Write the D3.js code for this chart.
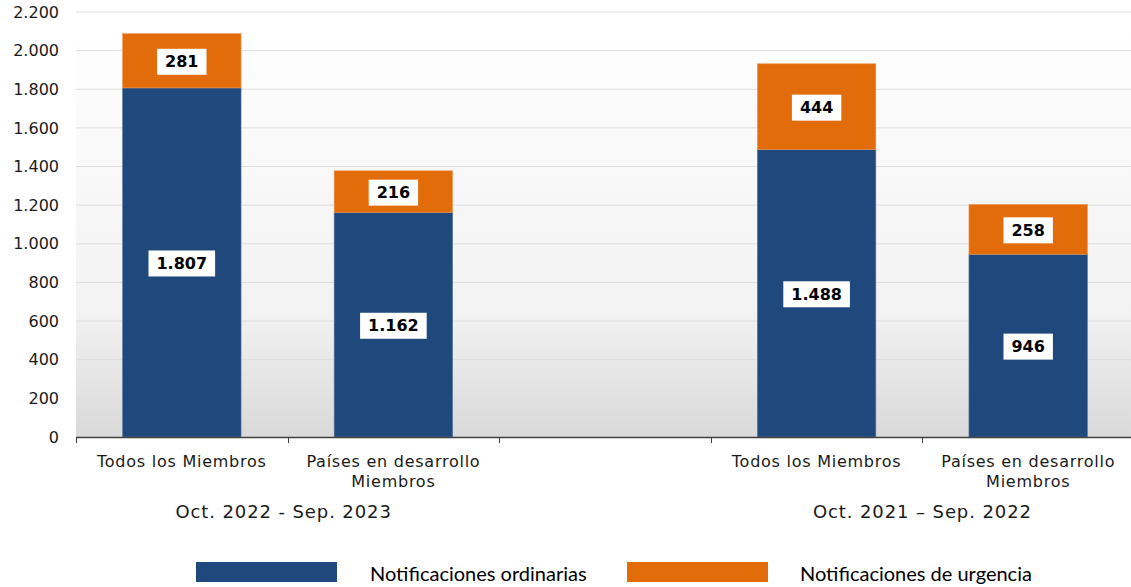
<!DOCTYPE html>
<html>
<head>
<meta charset="utf-8">
<script src="https://cdn.jsdelivr.net/npm/d3@7"></script>
<style>
  body { margin: 0; background: #fff; }
  svg { display: block; }
</style>
</head>
<body>
<svg id="chart" width="1131" height="587"></svg>
<script>
// slots on the x axis, the middle one is an empty spacer between the two periods
const categories = ["Todos los Miembros", "Países en desarrollo\nMiembros", "", "Todos los Miembros", "Países en desarrollo\nMiembros"];
const periods = ["Oct. 2022 - Sep. 2023", "Oct. 2021 – Sep. 2022"];
const periodSlots = [[0, 1], [3, 4]];
const ordinarias = [1807, 1162, null, 1488, 946];
const urgencia = [281, 216, null, 444, 258];
const yTicks = [0, 200, 400, 600, 800, 1000, 1200, 1400, 1600, 1800, 2000, 2200];
const seriesNames = ["Notificaciones ordinarias", "Notificaciones de urgencia"];
const colors = ["#1f497d", "#e36c0a"];

const svg = d3.select("#chart");
const plotLeft = 76, plotRight = 1131, plotTop = 12, plotBottom = 437;

const locale = d3.formatLocale({ decimal: ",", thousands: ".", grouping: [3], currency: ["", ""] });
const fmt = locale.format(",");

// the category axis runs a little past the right edge of the picture
let x = d3.scaleBand()
          .domain(d3.range(categories.length))
          .range([plotLeft, 1134])
          .paddingInner(0.44)
          .paddingOuter(0.22);
let step = x.step();
let edge = (i) => x(i) - x.paddingInner() * step / 2;

let y = d3.scaleLinear().domain([0, 2200]).range([plotBottom, plotTop]);

// background gradient
let defs = svg.append("defs");
let grad = defs.append("linearGradient").attr("id", "bg").attr("x1", 0).attr("x2", 0).attr("y1", 0).attr("y2", 1);
grad.append("stop").attr("offset", "0%").attr("stop-color", "#ffffff");
grad.append("stop").attr("offset", "70%").attr("stop-color", "#f2f2f2");
grad.append("stop").attr("offset", "100%").attr("stop-color", "#d9d9d9");

svg.append("rect")
   .attr("x", plotLeft).attr("y", y(2130))
   .attr("width", plotRight - plotLeft).attr("height", plotBottom - y(2130))
   .attr("fill", "url(#bg)");

// gridlines
svg.append("g")
   .selectAll("line")
   .data(yTicks.filter(d => d > 0))
   .enter()
   .append("line")
   .attr("x1", plotLeft).attr("x2", plotRight)
   .attr("y1", d => y(d)).attr("y2", d => y(d))
   .attr("stroke", "#dedede").attr("stroke-width", 1);

// y axis labels
let yAxis = svg.append("g")
               .attr("transform", `translate(${plotLeft},0)`)
               .call(d3.axisLeft(y).tickValues(yTicks).tickFormat(fmt).tickSize(0).tickPadding(17));
yAxis.select(".domain").remove();
yAxis.selectAll("text")
     .attr("font-family", "Verdana, 'DejaVu Sans', sans-serif")
     .attr("font-size", "16px")
     .attr("fill", "#1a1a1a");

// stacked bars
let idx = d3.range(categories.length).filter(i => ordinarias[i] != null);

svg.append("g")
   .selectAll("rect")
   .data(idx)
   .enter()
   .append("rect")
   .attr("x", i => x(i))
   .attr("y", i => y(ordinarias[i]))
   .attr("width", x.bandwidth())
   .attr("height", i => y(0) - y(ordinarias[i]))
   .attr("fill", colors[0])
   .attr("stroke", "#5b7aa3").attr("stroke-width", 0.6);

svg.append("g")
   .selectAll("rect")
   .data(idx)
   .enter()
   .append("rect")
   .attr("x", i => x(i))
   .attr("y", i => y(ordinarias[i] + urgencia[i]))
   .attr("width", x.bandwidth())
   .attr("height", i => y(ordinarias[i]) - y(ordinarias[i] + urgencia[i]))
   .attr("fill", colors[1])
   .attr("stroke", "#ec9a5a").attr("stroke-width", 0.6);

// value labels in white boxes
let addLabel = (cx, cy, value) => {
  let g = svg.append("g");
  let box = g.append("rect").attr("fill", "#fff");
  let t = g.append("text")
           .attr("x", cx).attr("y", cy)
           .attr("text-anchor", "middle")
           .attr("dominant-baseline", "central")
           .attr("font-family", "Verdana, 'DejaVu Sans', sans-serif")
           .attr("font-weight", "bold")
           .attr("font-size", "16px")
           .attr("fill", "#000")
           .text(fmt(value));
  let w = t.node().getComputedTextLength();
  box.attr("x", cx - w / 2 - 8).attr("y", cy - 13)
     .attr("width", w + 16).attr("height", 26);
};

idx.forEach(i => {
  let cx = x(i) + x.bandwidth() / 2;
  addLabel(cx, y(ordinarias[i] / 2) + 1, ordinarias[i]);
  addLabel(cx, y(ordinarias[i] + urgencia[i] / 2) + 1, urgencia[i]);
});

// x axis with ticks on slot boundaries
let edges = d3.range(categories.length).map(i => edge(i));
let xAxis = svg.append("g");
xAxis.append("line")
     .attr("x1", plotLeft).attr("x2", plotRight)
     .attr("y1", plotBottom + 0.5).attr("y2", plotBottom + 0.5)
     .attr("stroke", "#404040").attr("stroke-width", 1.5);
xAxis.selectAll(".tick")
     .data(edges)
     .enter()
     .append("line")
     .attr("x1", d => Math.round(d) + 0.5).attr("x2", d => Math.round(d) + 0.5)
     .attr("y1", plotBottom).attr("y2", plotBottom + 6)
     .attr("stroke", "#404040");

let catText = svg.append("g")
                 .selectAll("text")
                 .data(d3.range(categories.length).filter(i => categories[i] !== ""))
                 .enter()
                 .append("text")
                 .attr("x", i => x(i) + x.bandwidth() / 2)
                 .attr("y", 467)
                 .attr("text-anchor", "middle")
                 .attr("font-family", "Verdana, 'DejaVu Sans', sans-serif")
                 .attr("font-size", "16px")
                 .attr("letter-spacing", "0.75px")
                 .attr("fill", "#1a1a1a");
catText.each(function(i) {
  let lines = categories[i].split("\n");
  d3.select(this).selectAll("tspan")
    .data(lines)
    .enter()
    .append("tspan")
    .attr("x", x(i) + x.bandwidth() / 2)
    .attr("dy", (d, k) => k === 0 ? 0 : 20)
    .text(d => d);
});

svg.append("g")
   .selectAll("text")
   .data(periods)
   .enter()
   .append("text")
   .attr("x", (d, k) => edge(periodSlots[k][1]) - (k === 0 ? 4 : 0))
   .attr("y", 518)
   .attr("text-anchor", "middle")
   .attr("font-family", "Verdana, 'DejaVu Sans', sans-serif")
   .attr("font-size", "18px")
   .attr("letter-spacing", "0.9px")
   .attr("fill", "#1a1a1a")
   .text(d => d);

// legend
let legend = svg.append("g")
                .selectAll("g")
                .data(seriesNames)
                .enter()
                .append("g")
                .attr("transform", (d, k) => `translate(${k === 0 ? 196 : 627},562)`);
legend.append("rect")
      .attr("width", 141).attr("height", 20)
      .attr("fill", (d, k) => colors[k]);
legend.append("text")
      .attr("x", (d, k) => k === 0 ? 174 : 173)
      .attr("y", 19)
      .attr("font-family", "Lato, 'Liberation Sans', sans-serif")
      .attr("font-size", "20px")
      .attr("fill", "#000")
      .text(d => d);
</script>
</body>
</html>
